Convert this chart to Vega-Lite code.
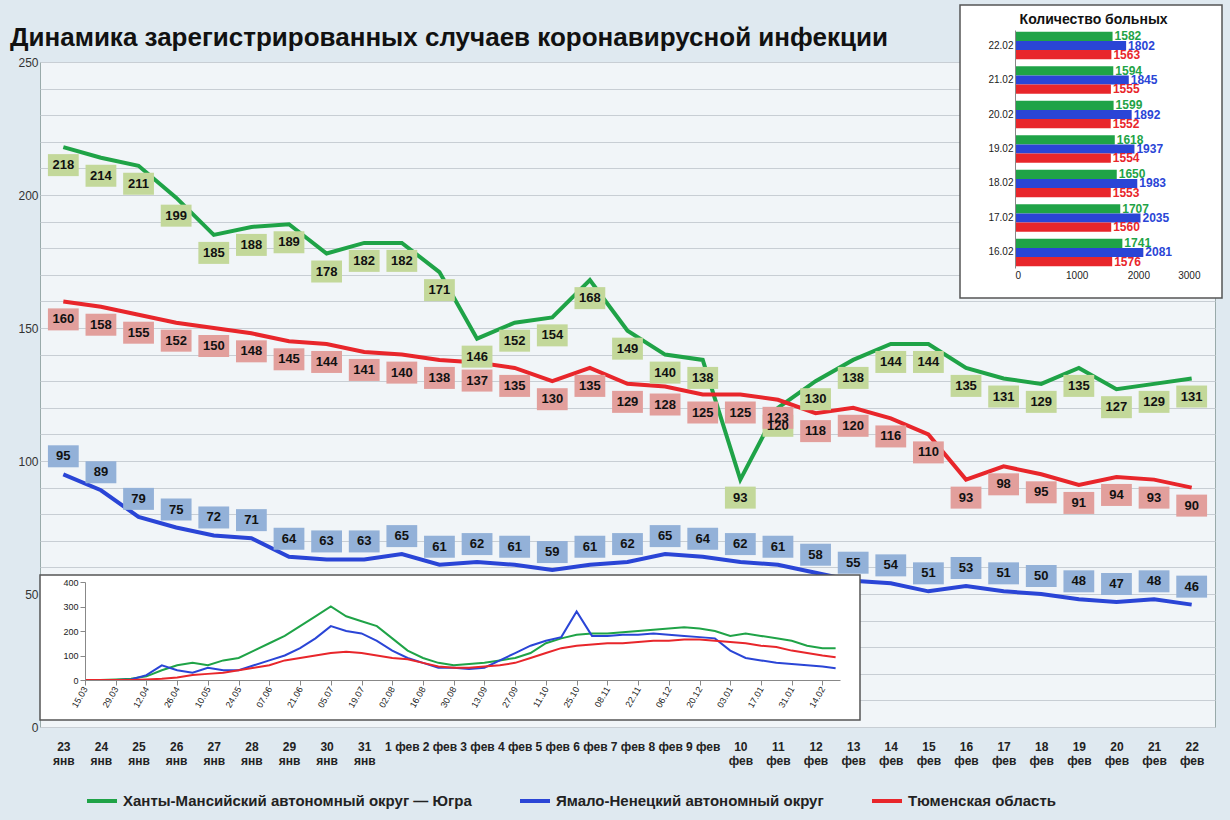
{
"$schema":"https://vega.github.io/schema/vega-lite/v6.json",
"width":1175,"height":665,
"autosize":{"type":"none"},
"padding":{"left":40,"top":62,"right":15,"bottom":93},
"background":"#dfe9f0",
"config":{"view":{"fill":"#f1f5f8","stroke":"#9aa"},"font":"Liberation Sans"},
"datasets":{
"main":[
{"d":"23 янв","Y":218,"N":95,"T":160},{"d":"24 янв","Y":214,"N":89,"T":158},{"d":"25 янв","Y":211,"N":79,"T":155},{"d":"26 янв","Y":199,"N":75,"T":152},{"d":"27 янв","Y":185,"N":72,"T":150},{"d":"28 янв","Y":188,"N":71,"T":148},{"d":"29 янв","Y":189,"N":64,"T":145},{"d":"30 янв","Y":178,"N":63,"T":144},{"d":"31 янв","Y":182,"N":63,"T":141},{"d":"1 фев","Y":182,"N":65,"T":140},{"d":"2 фев","Y":171,"N":61,"T":138},{"d":"3 фев","Y":146,"N":62,"T":137},{"d":"4 фев","Y":152,"N":61,"T":135},{"d":"5 фев","Y":154,"N":59,"T":130},{"d":"6 фев","Y":168,"N":61,"T":135},{"d":"7 фев","Y":149,"N":62,"T":129},{"d":"8 фев","Y":140,"N":65,"T":128},{"d":"9 фев","Y":138,"N":64,"T":125},{"d":"10 фев","Y":93,"N":62,"T":125},{"d":"11 фев","Y":120,"N":61,"T":123},{"d":"12 фев","Y":130,"N":58,"T":118},{"d":"13 фев","Y":138,"N":55,"T":120},{"d":"14 фев","Y":144,"N":54,"T":116},{"d":"15 фев","Y":144,"N":51,"T":110},{"d":"16 фев","Y":135,"N":53,"T":93},{"d":"17 фев","Y":131,"N":51,"T":98},{"d":"18 фев","Y":129,"N":50,"T":95},{"d":"19 фев","Y":135,"N":48,"T":91},{"d":"20 фев","Y":127,"N":47,"T":94},{"d":"21 фев","Y":129,"N":48,"T":93},{"d":"22 фев","Y":131,"N":46,"T":90}],
"hist":[
{"t":"2020-03-15","Y":0,"N":0,"T":0},{"t":"2020-03-22","Y":0,"N":0,"T":0},{"t":"2020-03-29","Y":2,"N":0,"T":0},{"t":"2020-04-05","Y":5,"N":2,"T":0},{"t":"2020-04-12","Y":15,"N":20,"T":2},{"t":"2020-04-19","Y":40,"N":60,"T":5},{"t":"2020-04-26","Y":60,"N":40,"T":10},{"t":"2020-05-03","Y":70,"N":30,"T":20},{"t":"2020-05-10","Y":60,"N":50,"T":25},{"t":"2020-05-17","Y":80,"N":40,"T":30},{"t":"2020-05-24","Y":90,"N":40,"T":40},{"t":"2020-05-31","Y":120,"N":60,"T":50},{"t":"2020-06-07","Y":150,"N":80,"T":60},{"t":"2020-06-14","Y":180,"N":100,"T":80},{"t":"2020-06-21","Y":220,"N":130,"T":90},{"t":"2020-06-28","Y":260,"N":170,"T":100},{"t":"2020-07-05","Y":300,"N":220,"T":110},{"t":"2020-07-12","Y":260,"N":200,"T":115},{"t":"2020-07-19","Y":240,"N":190,"T":110},{"t":"2020-07-26","Y":220,"N":160,"T":100},{"t":"2020-08-02","Y":170,"N":120,"T":90},{"t":"2020-08-09","Y":120,"N":90,"T":85},{"t":"2020-08-16","Y":90,"N":70,"T":70},{"t":"2020-08-23","Y":70,"N":50,"T":55},{"t":"2020-08-30","Y":60,"N":50,"T":50},{"t":"2020-09-06","Y":65,"N":45,"T":50},{"t":"2020-09-13","Y":70,"N":50,"T":55},{"t":"2020-09-20","Y":80,"N":80,"T":60},{"t":"2020-09-27","Y":90,"N":110,"T":70},{"t":"2020-10-04","Y":110,"N":140,"T":90},{"t":"2020-10-11","Y":150,"N":160,"T":110},{"t":"2020-10-18","Y":170,"N":175,"T":130},{"t":"2020-10-25","Y":185,"N":280,"T":140},{"t":"2020-11-01","Y":190,"N":180,"T":145},{"t":"2020-11-08","Y":190,"N":180,"T":150},{"t":"2020-11-15","Y":195,"N":185,"T":150},{"t":"2020-11-22","Y":200,"N":185,"T":155},{"t":"2020-11-29","Y":205,"N":190,"T":160},{"t":"2020-12-06","Y":210,"N":185,"T":160},{"t":"2020-12-13","Y":215,"N":180,"T":165},{"t":"2020-12-20","Y":210,"N":175,"T":165},{"t":"2020-12-27","Y":200,"N":170,"T":160},{"t":"2021-01-03","Y":180,"N":120,"T":155},{"t":"2021-01-10","Y":190,"N":90,"T":150},{"t":"2021-01-17","Y":180,"N":80,"T":140},{"t":"2021-01-24","Y":170,"N":70,"T":135},{"t":"2021-01-31","Y":160,"N":65,"T":120},{"t":"2021-02-07","Y":140,"N":60,"T":110},{"t":"2021-02-14","Y":130,"N":55,"T":100},{"t":"2021-02-20","Y":130,"N":48,"T":93}],
"bars":[
{"d":"22.02","Y":1582,"N":1802,"T":1563},{"d":"21.02","Y":1594,"N":1845,"T":1555},{"d":"20.02","Y":1599,"N":1892,"T":1552},{"d":"19.02","Y":1618,"N":1937,"T":1554},{"d":"18.02","Y":1650,"N":1983,"T":1553},{"d":"17.02","Y":1707,"N":2035,"T":1560},{"d":"16.02","Y":1741,"N":2081,"T":1576}]
},
"resolve":{"scale":{"x":"independent","y":"independent","color":"independent","fill":"independent"},"axis":{"x":"independent","y":"independent"}},
"layer":[
{
"data":{"name":"main"},
"transform":[{"fold":["Y","N","T"],"as":["s","v"]}],
"layer":[
{"mark":{"type":"line","strokeWidth":4},
"encoding":{
"x":{"field":"d","type":"ordinal","sort":null,"scale":{"type":"point","padding":0.62},
"axis":{"orient":"bottom","title":null,"ticks":false,"domain":false,"labelFontWeight":"bold","labelFontSize":12,"labelColor":"#222","labelPadding":14,"labelAngle":0,
"labelExpr":"test(/^[1-9] фев/, datum.value) ? datum.value : split(datum.value, ' ')"}},
"y":{"field":"v","type":"quantitative","scale":{"domain":[0,250],"nice":false},
"axis":{"orient":"left","title":null,"tickCount":25,"labelExpr":"datum.value % 50 == 0 ? datum.label : ''","gridColor":"#c8ced4","ticks":false,"domain":false,"labelFontSize":12,"labelColor":"#333"}},
"color":{"field":"s","type":"nominal","scale":{"domain":["Y","N","T"],"range":["#1fa347","#2a45d6","#e8262b"]},
"legend":{"orient":"none","legendX":45,"legendY":722,"direction":"horizontal","title":null,"symbolType":"stroke","symbolStrokeWidth":4,"symbolSize":900,"labelFontSize":15,"labelFontWeight":"bold","labelColor":"#222","columnPadding":40,"labelLimit":500,
"labelExpr":"datum.value == 'Y' ? 'Ханты-Мансийский автономный округ — Югра' : datum.value == 'N' ? 'Ямало-Ненецкий автономный округ' : 'Тюменская область'"}}
}},
{"transform":[{"filter":"datum.s != 'N'"}],
"mark":{"type":"point","shape":"M-1.4,-1H1.4V1H-1.4Z","filled":true,"opacity":1,"size":484,"strokeWidth":0,"yOffset":18},
"encoding":{
"x":{"field":"d","type":"ordinal","sort":null},
"y":{"field":"v","type":"quantitative"},
"fill":{"field":"s","type":"nominal","scale":{"domain":["Y","N","T"],"range":["#c3d89a","#93b1d8","#e29f9c"]},"legend":null}
}},
{"transform":[{"filter":"datum.s == 'N'"}],
"mark":{"type":"point","shape":"M-1.4,-1H1.4V1H-1.4Z","filled":true,"opacity":1,"size":484,"strokeWidth":0,"yOffset":-18},
"encoding":{
"x":{"field":"d","type":"ordinal","sort":null},
"y":{"field":"v","type":"quantitative"},
"fill":{"field":"s","type":"nominal","legend":null}
}},
{"transform":[{"filter":"datum.s != 'N'"}],
"mark":{"type":"text","fontSize":13,"fontWeight":"bold","color":"#111","yOffset":18},
"encoding":{
"x":{"field":"d","type":"ordinal","sort":null},
"y":{"field":"v","type":"quantitative"},
"text":{"field":"v","type":"quantitative"}
}},
{"transform":[{"filter":"datum.s == 'N'"}],
"mark":{"type":"text","fontSize":13,"fontWeight":"bold","color":"#111","yOffset":-18},
"encoding":{
"x":{"field":"d","type":"ordinal","sort":null},
"y":{"field":"v","type":"quantitative"},
"text":{"field":"v","type":"quantitative"}
}}
]},
{
"data":{"values":[{}]},
"layer":[
{"mark":{"type":"rect","fill":"#ffffff","stroke":"#555","strokeWidth":1.5},
"encoding":{
"x":{"datum":0,"type":"quantitative","scale":{"domain":[0,1],"range":[0,820]},"axis":null},"x2":{"datum":1},
"y":{"datum":0,"type":"quantitative","scale":{"domain":[0,1],"range":[513,658]},"axis":null},"y2":{"datum":1}}},
{"mark":{"type":"text","fontSize":26,"fontWeight":"bold","color":"#111","align":"left","baseline":"middle"},
"encoding":{
"x":{"datum":-0.0366,"type":"quantitative"},
"y":{"datum":-3.703,"type":"quantitative"},
"text":{"value":"Динамика зарегистрированных случаев коронавирусной инфекции"}}}
]},
{
"data":{"name":"hist"},
"transform":[{"fold":["Y","N","T"],"as":["s","v"]}],
"mark":{"type":"line","strokeWidth":2},
"encoding":{
"x":{"field":"t","type":"temporal","scale":{"domain":["2020-03-15","2021-02-22"],"range":[45,800]},
"axis":{"orient":"bottom","zindex":2,"title":null,"offset":-47,"format":"%d.%m","tickCount":{"interval":"week","step":2},"labelAngle":-60,"labelFontSize":9,"labelColor":"#222","grid":false,"domainColor":"#888","tickColor":"#888"}},
"y":{"field":"v","type":"quantitative","scale":{"domain":[0,400],"range":[618,520]},
"axis":{"orient":"left","zindex":2,"title":null,"offset":-45,"values":[0,100,200,300,400],"labelFontSize":9,"labelColor":"#222","grid":false,"domainColor":"#888","tickColor":"#888"}},
"color":{"field":"s","type":"nominal","scale":{"domain":["Y","N","T"],"range":["#1fa347","#2a45d6","#e8262b"]},"legend":null}
}},
{
"data":{"values":[{}]},
"layer":[
{"mark":{"type":"rect","fill":"#ffffff","stroke":"#555","strokeWidth":1.5},
"encoding":{
"x":{"datum":0,"type":"quantitative","scale":{"domain":[0,1],"range":[920,1182]},"axis":null},"x2":{"datum":1},
"y":{"datum":0,"type":"quantitative","scale":{"domain":[0,1],"range":[-57,236]},"axis":null},"y2":{"datum":1}}},
{"mark":{"type":"text","fontSize":14,"fontWeight":"bold","color":"#111","baseline":"middle"},
"encoding":{
"x":{"datum":0.51,"type":"quantitative"},
"y":{"datum":0.05,"type":"quantitative"},
"text":{"value":"Количество больных"}}}
]},
{
"data":{"name":"bars"},
"transform":[{"fold":["Y","N","T"],"as":["s","v"]}],
"layer":[
{"mark":{"type":"bar"},
"encoding":{
"x":{"field":"v","type":"quantitative","scale":{"domain":[0,3000],"range":[975,1160]},
"axis":{"orient":"bottom","zindex":2,"title":null,"offset":-459,"values":[0,1000,2000,3000],"format":"d","labelFontSize":10,"labelColor":"#222","grid":false,"domain":false,"ticks":false}},
"y":{"field":"d","type":"nominal","sort":null,"scale":{"range":[-32,206],"paddingInner":0.2,"paddingOuter":0.05},
"axis":{"orient":"left","zindex":2,"title":null,"offset":-975,"labelFontSize":10,"labelColor":"#222","domainColor":"#888","ticks":false}},
"yOffset":{"field":"s","type":"nominal","sort":["Y","N","T"]},
"color":{"field":"s","type":"nominal","scale":{"domain":["Y","N","T"],"range":["#1fa347","#2a45d6","#e8262b"]},"legend":null}
}},
{"mark":{"type":"text","align":"left","dx":2,"fontSize":12,"fontWeight":"bold"},
"encoding":{
"x":{"field":"v","type":"quantitative"},
"y":{"field":"d","type":"nominal","sort":null},
"yOffset":{"field":"s","type":"nominal","sort":["Y","N","T"]},
"text":{"field":"v","type":"quantitative"},
"color":{"field":"s","type":"nominal","legend":null}
}}
]}
]
}
